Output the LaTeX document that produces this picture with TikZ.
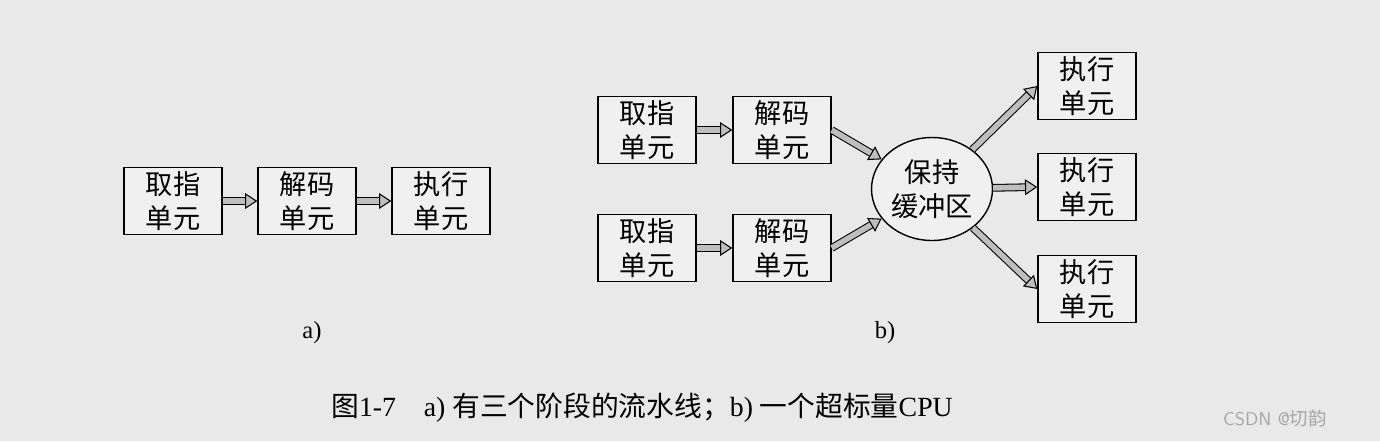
\documentclass[tikz,border=0pt]{standalone}
\usepackage{fontspec}
\usepackage{tikz}
\usepackage{xcolor}
\usetikzlibrary{shapes.geometric,arrows.meta}
\setmainfont{Liberation Serif}
\newfontfamily\cjk{Noto Sans CJK SC}
\definecolor{paper}{RGB}{233,233,233}
\definecolor{boxfill}{RGB}{240,240,240}
\definecolor{pipe}{RGB}{190,190,190}

\begin{document}
\begin{tikzpicture}[x=0.02cm, y=-0.02cm,
    unit/.style={draw, line width=0.8pt, fill=boxfill, minimum width=1.96cm, minimum height=1.34cm,
        align=center, font=\cjk\fontsize{15.5}{19.5}\selectfont, inner sep=0pt},
    buffer/.style={ellipse, draw, line width=0.8pt, fill=boxfill, minimum width=2.42cm, minimum height=2.06cm,
        align=center, font=\cjk\fontsize{15.5}{19.5}\selectfont, inner sep=0pt},
    flow/.style={double=pipe, double distance=3.2pt, line width=0.6pt,
        -{Triangle[length=7pt, width=9pt, fill=pipe]}}]
            \fill[paper] (0,0) rectangle (1380,441);
            \useasboundingbox (0,0) rectangle (1380,441);
            % a) three-stage pipeline
            \node[unit] (fa) at (173,201) {取指\\单元};
            \node[unit] (da) at (307,201) {解码\\单元};
            \node[unit] (ea) at (441,201) {执行\\单元};
            \draw[flow] (fa) -- (da);
            \draw[flow] (da) -- (ea);
            \node (la) at (312,333) {\fontsize{14}{16}\selectfont a)};
            % b) superscalar CPU
            \node[unit] (f1) at (647,130) {取指\\单元};
            \node[unit] (d1) at (782,130) {解码\\单元};
            \node[unit] (f2) at (647,248) {取指\\单元};
            \node[unit] (d2) at (782,248) {解码\\单元};
            \node[buffer] (buf) at (932,189) {保持\\缓冲区};
            \foreach \i/\y in {1/86, 2/187, 3/289}
                \node[unit] (e\i) at (1087,\y) {执行\\单元};
            \draw[flow] (f1) -- (d1);
            \draw[flow] (f2) -- (d2);
            \draw[flow] (d1.east) -- (buf);
            \draw[flow] (d2.east) -- (buf);
            \foreach \i in {1,2,3} \draw[flow] (buf) -- (e\i.west);
            \node (lb) at (885,333) {\fontsize{14}{16}\selectfont b)};
            % caption
            \node (cap) at (642,408) {\fontsize{15.8}{18}\selectfont {\cjk 图}1-7\quad a) {\cjk 有三个阶段的流水线；}b) {\cjk 一个超标量}CPU};
            \node[text=gray!70, font=\sffamily\fontsize{10.5}{12}\selectfont] (mark) at (1275,418) {CSDN @{\cjk 切韵}};
        \end{tikzpicture}
\end{document}
